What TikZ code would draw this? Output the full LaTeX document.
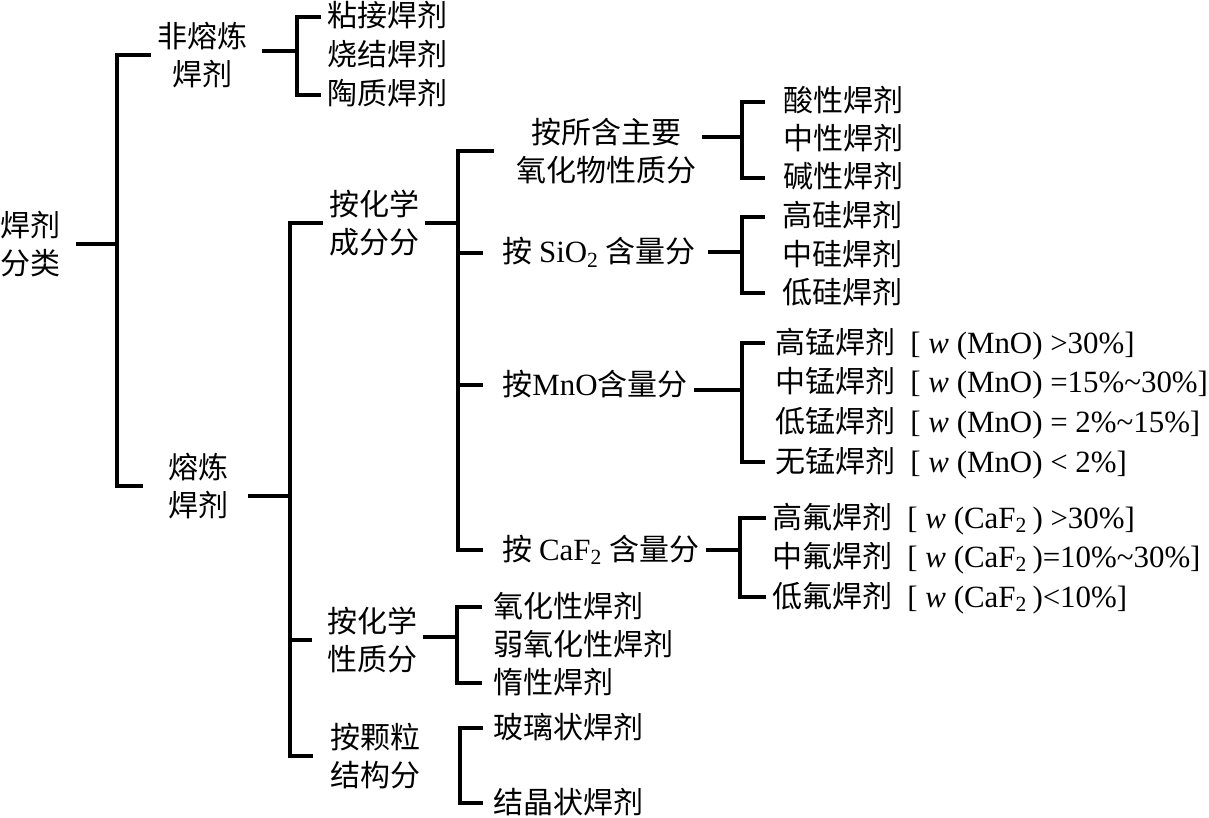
\documentclass[tikz,border=0pt]{standalone}
\usepackage{fontspec}
\setmainfont{Noto Sans CJK SC}
\newfontfamily\tnr{Liberation Serif}[Scale=1.03]

\tikzset{
  lbl/.style={align=center, inner xsep=3pt, inner ysep=1pt},
  item/.style={anchor=west, inner xsep=3pt, inner ysep=0pt, text height=1em, text depth=0pt},
  br/.style={line width=1.6pt},
}

\begin{document}
\begin{tikzpicture}[x=0.5pt, y=-0.5pt, font=\fontsize{15pt}{19pt}\selectfont, line join=miter]
    \useasboundingbox (0,0) rectangle (1209,818);
    % Wurzel und erste Ebene
    \node[lbl, inner xsep=0pt] (root) at (30,244) {焊剂\\分类};
    \node[lbl] (nfs) at (202,55) {非熔炼\\焊剂};
    \node[lbl] (fs) at (198,486) {熔炼\\焊剂};
    % nicht geschmolzen
    \node[item] (nfs1) at (321,17) {粘接焊剂};
    \node[item] (nfs2) at (321,56) {烧结焊剂};
    \node[item] (nfs3) at (321,95) {陶质焊剂};
    % geschmolzen: zweite Ebene
    \node[lbl] (chem) at (374,223) {按化学\\成分分};
    \node[lbl] (prop) at (372,640) {按化学\\性质分};
    \node[lbl] (gran) at (375,756) {按颗粒\\结构分};
    % nach Zusammensetzung
    \node[lbl] (ox) at (606,151) {按所含主要\\氧化物性质分};
    \node[item] (si) at (496,253) {按 {\tnr SiO\textsubscript{2}} 含量分};
    \node[item] (mn) at (496,385) {按{\tnr MnO}含量分};
    \node[item] (caf) at (496,550) {按 {\tnr CaF\textsubscript{2}} 含量分};
    \node[item] (ac1) at (777,102) {酸性焊剂};
    \node[item] (ac2) at (777,140) {中性焊剂};
    \node[item] (ac3) at (777,178) {碱性焊剂};
    \node[item] (s1) at (776,217) {高硅焊剂};
    \node[item] (s2) at (776,255) {中硅焊剂};
    \node[item] (s3) at (776,293) {低硅焊剂};
    \node[item] (m1) at (769,343) {高锰焊剂\enskip{\tnr [ \textit{w} (MnO) >30\%]}};
    \node[item] (m2) at (769,382) {中锰焊剂\enskip{\tnr [ \textit{w} (MnO) =15\%\textasciitilde30\%]}};
    \node[item] (m3) at (769,422) {低锰焊剂\enskip{\tnr [ \textit{w} (MnO) = 2\%\textasciitilde15\%]}};
    \node[item] (m4) at (769,462) {无锰焊剂\enskip{\tnr [ \textit{w} (MnO) < 2\%]}};
    \node[item] (c1) at (766,518) {高氟焊剂\enskip{\tnr [ \textit{w} (CaF\textsubscript{2}\,) >30\%]}};
    \node[item] (c2) at (766,557) {中氟焊剂\enskip{\tnr [ \textit{w} (CaF\textsubscript{2}\,)=10\%\textasciitilde30\%]}};
    \node[item] (c3) at (766,597) {低氟焊剂\enskip{\tnr [ \textit{w} (CaF\textsubscript{2}\,)<10\%]}};
    % nach Eigenschaft und Koernung
    \node[item] (p1) at (487,607) {氧化性焊剂};
    \node[item] (p2) at (487,645) {弱氧化性焊剂};
    \node[item] (p3) at (487,683) {惰性焊剂};
    \node[item] (g1) at (487,728) {玻璃状焊剂};
    \node[item] (g2) at (487,803) {结晶状焊剂};
    % Klammern
    \coordinate (j1) at (117,244);
    \coordinate (j0) at (297,51);
    \coordinate (j2) at (290,496);
    \coordinate (j3) at (458,223);
    \coordinate (j4) at (742,137);
    \coordinate (j5) at (742,252);
    \coordinate (j6) at (742,390);
    \coordinate (j7) at (740,550);
    \coordinate (j8) at (457,637);
    \coordinate (j9) at (460,766);
    \draw[br, shorten <=8pt] (root.east) -- (j1);
    \draw[br, shorten >=9.5pt] (nfs.west) -| (j1) |- (fs.west);
    \draw[br, shorten <=4.5pt] (nfs.east |- j0) -- (j0);
    \draw[br] (nfs1.west) -| (j0) |- (nfs3.west);
    \draw[br, shorten <=7pt] (fs.east |- j2) -- (j2);
    \draw[br, shorten >=5.5pt] (chem.west) -| (j2) |- (gran.west);
    \draw[br, shorten >=4.5pt] (j2) |- (prop.west);
    \draw[br] (chem.east) -- (j3);
    \draw[br, shorten <=8pt, shorten >=6.5pt] (ox.west) -| (j3) |- (caf.west);
    \draw[br, shorten >=6.5pt] (j3) |- (si.west);
    \draw[br, shorten >=6.5pt] (j3) |- (mn.west);
    \draw[br] (ox.east |- j4) -- (j4);
    \draw[br, shorten <=6pt, shorten >=6pt] (ac1.west) -| (j4) |- (ac3.west);
    \draw[br, shorten <=3pt] (si.east |- j5) -- (j5);
    \draw[br, shorten <=5.5pt, shorten >=5.5pt] (s1.west) -| (j5) |- (s3.west);
    \draw[br] (mn.east |- j6) -- (j6);
    \draw[br, shorten <=2pt, shorten >=2pt] (m1.west) -| (j6) |- (m4.west);
    \draw[br] (caf.east |- j7) -- (j7);
    \draw[br] (c1.west) -| (j7) |- (c3.west);
    \draw[br] (prop.east |- j8) -- (j8);
    \draw[br, shorten <=2.5pt, shorten >=2.5pt] (p1.west) -| (j8) |- (p3.west);
    \draw[br, shorten <=2pt, shorten >=2pt] (g1.west) -| (j9) |- (g2.west);
\end{tikzpicture}
\end{document}
